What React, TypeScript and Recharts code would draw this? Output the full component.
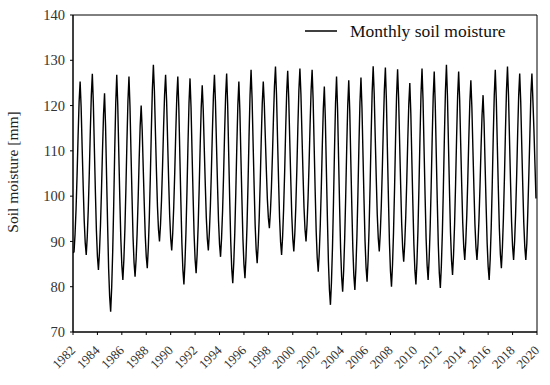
import React from 'react';
import { LineChart, Line, XAxis, YAxis, ReferenceArea } from 'recharts';

// Monthly soil moisture (mm), Jan..Dec per year
const sm1980s = [
  87.5, 87.7, 91.5, 97.1, 104.6, 113.3, 120.8, 125.3, 119.6, 110.7, 102.3, 94.7, // 1982
  89.7, 87.0, 91.0, 97.0, 105.0, 114.2, 122.2, 127.0, 120.5, 110.5, 101.0, 92.4, // 1983
  86.7, 83.7, 87.6, 93.5, 101.3, 110.2, 118.0, 122.7, 115.5, 104.4, 93.8, 84.1, // 1984
  77.9, 74.5, 79.7, 87.6, 98.0, 110.1, 120.5, 126.8, 120.0, 109.6, 99.6, 90.6, // 1985
  84.7, 81.5, 86.0, 92.7, 101.7, 112.0, 121.0, 126.4, 119.8, 109.6, 99.9, 91.0, // 1986
  85.3, 82.2, 86.0, 91.7, 99.2, 107.9, 115.5, 120.0, 114.6, 106.4, 98.5, 91.3, // 1987
  86.6, 84.1, 88.6, 95.3, 104.3, 114.6, 123.6, 129.0, 123.2, 114.2, 105.6, 97.8, // 1988
  92.7, 90.0, 93.7, 99.2, 106.6, 115.0, 122.4, 126.8, 121.0, 112.1, 103.5, 95.8, // 1989
];
const sm1990s = [
  90.7, 88.0, 91.8, 97.6, 105.3, 114.1, 121.8, 126.4, 119.5, 109.0, 98.9, 89.7, // 1990
  83.7, 80.5, 85.1, 91.9, 101.0, 111.4, 120.5, 126.0, 119.6, 109.7, 100.2, 91.6, // 1991
  86.0, 83.0, 87.2, 93.4, 101.7, 111.2, 119.5, 124.5, 119.0, 110.6, 102.6, 95.3, // 1992
  90.6, 88.0, 91.9, 97.7, 105.5, 114.4, 122.1, 126.8, 120.8, 111.5, 102.7, 94.6, // 1993
  89.4, 86.6, 90.7, 96.7, 104.8, 114.1, 122.2, 127.1, 120.2, 109.5, 99.3, 90.1, // 1994
  84.0, 80.8, 85.3, 91.9, 100.8, 111.1, 120.0, 125.3, 118.8, 108.8, 99.3, 90.6, // 1995
  84.9, 81.9, 86.5, 93.4, 102.6, 113.2, 122.4, 127.9, 121.5, 111.7, 102.3, 93.7, // 1996
  88.2, 85.2, 89.2, 95.2, 103.2, 112.5, 120.5, 125.3, 120.4, 113.0, 105.9, 99.4, // 1997
  95.2, 92.9, 96.5, 101.8, 109.0, 117.2, 124.3, 128.6, 122.4, 112.8, 103.6, 95.3, // 1998
  89.9, 87.0, 91.1, 97.2, 105.3, 114.7, 122.8, 127.7, 121.7, 112.5, 103.8, 95.8, // 1999
];
const sm2000s = [
  90.6, 87.8, 91.8, 97.9, 106.0, 115.3, 123.4, 128.2, 122.5, 113.7, 105.3, 97.6, // 2000
  92.7, 90.0, 93.8, 99.5, 107.1, 115.8, 123.4, 127.9, 121.2, 111.0, 101.1, 92.2, // 2001
  86.4, 83.3, 87.4, 93.5, 101.7, 111.1, 119.3, 124.2, 117.0, 105.9, 95.3, 85.6, // 2002
  79.4, 76.0, 81.0, 88.6, 98.7, 110.3, 120.4, 126.4, 119.3, 108.4, 97.9, 88.4, // 2003
  82.2, 78.9, 83.6, 90.6, 99.9, 110.7, 120.0, 125.6, 118.7, 108.0, 97.8, 88.6, // 2004
  82.5, 79.3, 84.0, 91.0, 100.4, 111.2, 120.6, 126.2, 119.4, 109.1, 99.1, 90.1, // 2005
  84.3, 81.1, 85.9, 93.0, 102.5, 113.5, 123.0, 128.7, 122.6, 113.2, 104.2, 96.0, // 2006
  90.7, 87.8, 91.9, 98.0, 106.1, 115.4, 123.5, 128.4, 121.1, 110.0, 99.4, 89.7, // 2007
  83.4, 80.0, 84.8, 92.0, 101.6, 112.6, 122.2, 128.0, 121.6, 111.9, 102.5, 94.0, // 2008
  88.5, 85.5, 89.5, 95.4, 103.3, 112.4, 120.3, 125.0, 118.3, 108.1, 98.3, 89.4, // 2009
];
const sm2010s = [
  83.6, 80.5, 85.3, 92.4, 102.0, 112.9, 122.5, 128.2, 121.2, 110.5, 100.2, 90.8, // 2010
  84.8, 81.5, 86.1, 93.0, 102.2, 112.8, 122.0, 127.5, 120.3, 109.3, 98.8, 89.3, // 2011
  83.0, 79.7, 84.6, 92.0, 101.9, 113.2, 123.1, 129.0, 122.0, 111.4, 101.2, 91.9, // 2012
  85.8, 82.6, 87.1, 93.8, 102.8, 113.1, 122.1, 127.5, 121.3, 111.7, 102.5, 94.2, // 2013
  88.8, 85.9, 89.9, 95.8, 103.8, 112.9, 120.8, 125.6, 119.6, 110.5, 101.8, 93.8, // 2014
  88.7, 85.9, 89.5, 95.0, 102.3, 110.7, 117.9, 122.3, 116.2, 106.8, 97.8, 89.7, // 2015
  84.4, 81.5, 86.1, 93.1, 102.4, 113.1, 122.3, 127.9, 121.3, 111.3, 101.6, 92.9, // 2016
  87.2, 84.1, 88.6, 95.2, 104.1, 114.4, 123.3, 128.6, 122.2, 112.4, 103.0, 94.4, // 2017
  88.9, 85.9, 90.0, 96.2, 104.4, 113.9, 122.2, 127.1, 120.9, 111.4, 102.4, 94.1, // 2018
  88.8, 85.9, 89.6, 96.8, 104.9, 113.5, 122.6, 127.1, 121.0, 114.5, 107.0, 99.5, // 2019
];

const startYear = 1982;
const endYear = 2020;
const xTicks = [1982, 1984, 1986, 1988, 1990, 1992, 1994, 1996, 1998, 2000, 2002, 2004, 2006, 2008, 2010, 2012, 2014, 2016, 2018, 2020];
const yTicks = [70, 80, 90, 100, 110, 120, 130, 140];
const seriesName = 'Monthly soil moisture';
const yLabel = 'Soil moisture [mm]';

const allValues = [...sm1980s, ...sm1990s, ...sm2000s, ...sm2010s];
const data = allValues.map((v, i) => ({ t: startYear + i / 12, v }));

const FONT = '"Liberation Serif", "Times New Roman", serif';

const XTick = (props: any) => {
  const { x, y, payload } = props;
  return (
    <g transform={`translate(${x + 1},${y + 12})`}>
      <text x={0} y={0} textAnchor="end" dominantBaseline="middle" transform="rotate(-45)"
        fontFamily={FONT} fontSize={13} fill="#333">
        {payload.value}
      </text>
    </g>
  );
};

export default function App() {
  return (
    <div style={{ position: 'absolute', left: 0, top: 0, width: 550, height: 385, background: '#fff' }}>
      <LineChart width={550} height={385} data={data} margin={{ top: 15, right: 13, bottom: 0, left: 0 }}>
        <XAxis
          dataKey="t"
          type="number"
          domain={[startYear, endYear]}
          ticks={xTicks}
          allowDataOverflow
          height={53}
          tickSize={3}
          tickLine={{ stroke: '#000' }}
          axisLine={{ stroke: '#000' }}
          tick={<XTick />}
          interval={0}
        />
        <YAxis
          type="number"
          domain={[70, 140]}
          ticks={yTicks}
          width={73}
          tickSize={3}
          tickMargin={5}
          tickLine={{ stroke: '#000' }}
          axisLine={{ stroke: '#000' }}
          tick={{ fontFamily: FONT, fontSize: 14.5, fill: '#333' }}
          interval={0}
          label={{
            content: () => (
              <text x={14} y={172} transform="rotate(-90,14,172)" textAnchor="middle" dominantBaseline="middle"
                fontFamily={FONT} fontSize={15.5} fill="#222">
                {yLabel}
              </text>
            ),
          }}
        />
        <ReferenceArea x1={startYear} x2={endYear} y1={70} y2={140} fill="none" stroke="#000" strokeWidth={1} ifOverflow="visible" />
        <Line
          type="linear"
          dataKey="v"
          name={seriesName}
          stroke="#000"
          strokeWidth={1.4}
          dot={false}
          isAnimationActive={false}
        />
      </LineChart>
      <div style={{ position: 'absolute', top: 21, left: 305, display: 'flex', alignItems: 'center', fontFamily: FONT, fontSize: 17.5, color: '#111', lineHeight: '20px', whiteSpace: 'nowrap' }}>
        <svg width={45} height={10}>
          <line x1={0} y1={5} x2={32} y2={5} stroke="#000" strokeWidth={1.5} />
        </svg>
        <span>{seriesName}</span>
      </div>
    </div>
  );
}
